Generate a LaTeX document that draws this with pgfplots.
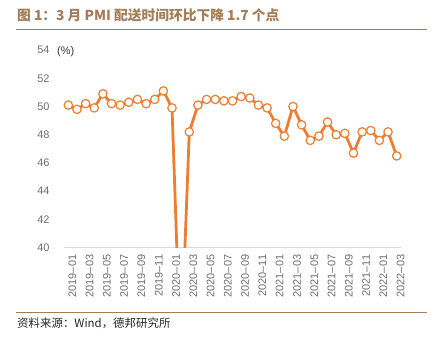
\documentclass[border=0pt]{standalone}
\usepackage{fontspec}
\usepackage{pgfplots}
\pgfplotsset{compat=1.18}
\setmainfont{Liberation Sans}
\newfontfamily\cjk{Noto Sans CJK SC}
\definecolor{org}{HTML}{ED7D31}
\definecolor{brn}{HTML}{A37D58}
\definecolor{tickgray}{HTML}{6E6E6E}
\definecolor{axgray}{HTML}{D9D9D9}
\pgfplotstableread{
x y
0 50.1
1 49.8
2 50.2
3 49.9
4 50.9
5 50.2
6 50.1
7 50.3
8 50.5
9 50.2
10 50.5
11 51.1
12 49.9
13 32.1
14 48.2
15 50.1
16 50.5
17 50.5
18 50.4
19 50.4
20 50.7
21 50.6
22 50.1
23 49.9
24 48.8
25 47.9
26 50.0
27 48.7
28 47.6
29 47.9
30 48.9
31 48.0
32 48.1
33 46.7
34 48.2
35 48.3
36 47.6
37 48.2
38 46.5
}\pmi
\begin{document}
\begin{tikzpicture}[x=1bp,y=1bp]
\useasboundingbox (0,0) rectangle (437,341);
\node[anchor=west, text=brn, font=\cjk\bfseries\fontsize{13.8}{16}\selectfont, inner sep=0] at (17,326) {图 1：3 月 PMI 配送时间环比下降 1.7 个点};
\draw[brn, line width=1bp] (16,312) -- (427,312);
\draw[brn, line width=1.4bp] (16,28.5) -- (427,28.5);
\node[anchor=west, font=\cjk\fontsize{11.5}{13}\selectfont, text=black!85, inner sep=0] at (17,18) {资料来源：Wind，德邦研究所};
\begin{axis}[
  at={(64bp,93.3bp)}, anchor=south west,
  scale only axis, width=337bp, height=197.7bp,
  xmin=-0.5, xmax=38.5, ymin=40, ymax=54,
  axis x line*=bottom, axis y line*=left,
  y axis line style={draw=none},
  x axis line style={draw=axgray, line width=0.8bp},
  ytick={40,42,...,54},
  major y tick style={draw=none},
  yticklabel style={font=\fontsize{11}{13}\selectfont, text=tickgray, xshift=-11bp},
  /pgf/number format/assume math mode=true,
  xtick={0,2,...,38},
  xticklabels={2019–01,2019–03,2019–05,2019–07,2019–09,2019–11,2020–01,2020–03,2020–05,2020–07,2020–09,2020–11,2021–01,2021–03,2021–05,2021–07,2021–09,2021–11,2022–01,2022–03},
  major x tick style={draw=none},
  xticklabel style={rotate=90, anchor=east, font=\fontsize{11}{13}\selectfont, text=tickgray, xshift=-3.5bp, yshift=-4bp},
  extra x ticks={-0.5,1.5,...,37.5},
  extra x tick labels={},
  extra x tick style={major tick length=4.5bp, tick align=outside, major tick style={draw=axgray, line width=0.8bp}},
  clip=true,
]
\addplot[org, line width=2.8bp, mark=*, mark size=4.2bp, mark options={fill=white, draw=org, line width=1.2bp}] table[x=x,y=y] {\pmi};
\end{axis}
\node[anchor=west, font=\fontsize{11}{13}\selectfont, text=black!80, inner sep=0] at (57,289.5) {(\%)};
\end{tikzpicture}
\end{document}
